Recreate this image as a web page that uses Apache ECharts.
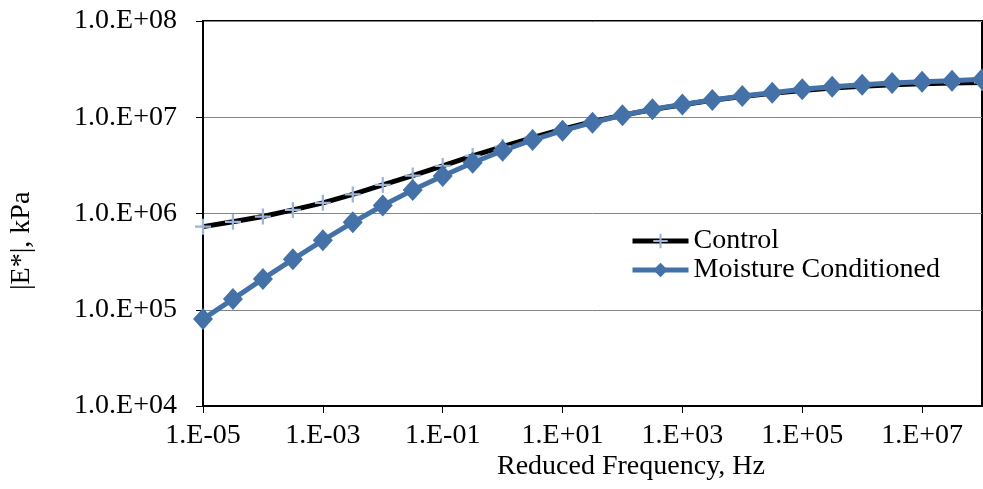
<!DOCTYPE html>
<html>
<head>
<meta charset="utf-8">
<script src="https://cdn.jsdelivr.net/npm/echarts@6/dist/echarts.min.js"></script>
<style>
  html, body { margin: 0; padding: 0; background: #fff; }
  #chart { width: 983px; height: 489px; }
</style>
</head>
<body>
<div id="chart"></div>
<script>
// reduced frequency, Hz (half-decade steps)
const freq = [1e-5, 3.16e-5, 1e-4, 3.16e-4, 1e-3, 3.16e-3, 1e-2, 3.16e-2, 1e-1, 3.16e-1,
  1, 3.16, 10, 31.6, 100, 316, 1e3, 3.16e3, 1e4, 3.16e4, 1e5, 3.16e5, 1e6, 3.16e6, 1e7, 3.16e7, 1e8];

// |E*|, kPa
const control = [7.3e5, 8.2e5, 9.3e5, 1.09e6, 1.29e6, 1.58e6, 1.98e6, 2.48e6, 3.12e6, 3.96e6,
  4.94e6, 6.13e6, 7.5e6, 9.0e6, 1.05e7, 1.2e7, 1.35e7, 1.5e7, 1.64e7, 1.77e7,
  1.9e7, 2.01e7, 2.1e7, 2.17e7, 2.23e7, 2.27e7, 2.3e7];
const moisture = [8.0e4, 1.29e5, 2.09e5, 3.34e5, 5.27e5, 8.1e5, 1.21e6, 1.75e6, 2.45e6, 3.37e6,
  4.49e6, 5.8e6, 7.25e6, 8.78e6, 1.05e7, 1.21e7, 1.36e7, 1.51e7, 1.66e7, 1.8e7,
  1.95e7, 2.08e7, 2.18e7, 2.27e7, 2.34e7, 2.4e7, 2.48e7];

const seriesNames = ['Control', 'Moisture Conditioned'];

const font = 'Liberation Serif, Times New Roman, serif';

function expLabel(v, prefix) {
  const e = Math.round(Math.log10(v));
  const s = e < 0 ? '-' : '+';
  const a = Math.abs(e);
  return prefix + s + (a < 10 ? '0' + a : a);
}

const chart = echarts.init(document.getElementById('chart'));
chart.setOption({
  animation: false,
  grid: {
    left: 203, right: 1, top: 21, bottom: 83,
    show: true, borderColor: '#000', borderWidth: 2
  },
  legend: {
    left: 625, top: 222, orient: 'vertical',
    itemWidth: 56, itemHeight: 18, itemGap: 1,
    lineStyle: { width: 5 },
    textStyle: { fontFamily: font, fontSize: 28, color: '#000' },
    data: seriesNames
  },
  xAxis: {
    type: 'log', logBase: 10, min: 1e-5, max: 1e8, interval: 2,
    axisLine: { lineStyle: { color: '#000', width: 2 } },
    axisTick: { show: true, length: 7, lineStyle: { color: '#000' } },
    splitLine: { show: false },
    minorTick: { show: false },
    axisLabel: {
      margin: 16, fontFamily: font, fontSize: 28, color: '#000',
      formatter: v => expLabel(v, '1.E')
    }
  },
  yAxis: {
    type: 'log', logBase: 10, min: 1e4, max: 1e8, interval: 1,
    axisLine: { show: true, lineStyle: { color: '#000', width: 2 } },
    axisTick: { show: true, length: 7, lineStyle: { color: '#000' } },
    splitLine: { show: true, lineStyle: { color: '#858585', width: 1 } },
    axisLabel: {
      margin: 26, fontFamily: font, fontSize: 28, color: '#000',
      formatter: v => expLabel(v, '1.0.E')
    }
  },
  graphic: [
    {
      type: 'text', left: 497, top: 453,
      style: { text: 'Reduced Frequency, Hz', font: '28px ' + font, fill: '#000' }
    },
    {
      type: 'text', x: 8, y: 290, rotation: Math.PI / 2,
      style: { text: '|E*|, kPa', font: '28px ' + font, fill: '#000' }
    }
  ],
  series: [
    {
      name: seriesNames[0], type: 'line',
      data: freq.map((f, i) => [f, control[i]]),
      lineStyle: { color: '#000', width: 5 },
      itemStyle: { color: '#9cb4d8' },
      symbol: 'path://M4.3,0h1.4v10h-1.4zM0,4.3h10v1.4h-10z',
      symbolSize: 16, showAllSymbol: true
    },
    {
      name: seriesNames[1], type: 'line',
      data: freq.map((f, i) => [f, moisture[i]]),
      lineStyle: { color: '#4471a8', width: 5 },
      itemStyle: { color: '#4471a8' },
      symbol: 'diamond', symbolSize: [20, 22], showAllSymbol: true
    }
  ]
});
</script>
</body>
</html>
